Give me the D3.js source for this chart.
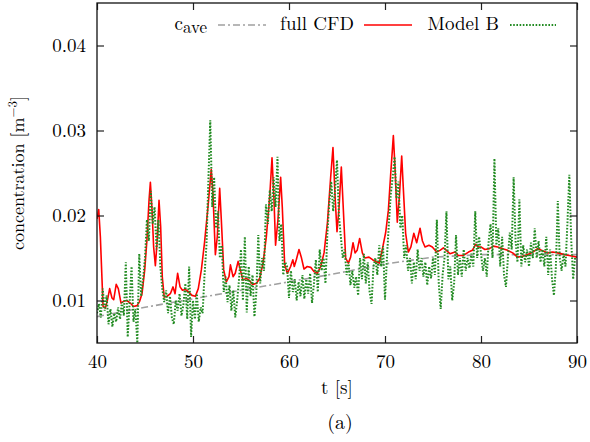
<!DOCTYPE html>
<html>
<head>
<meta charset="utf-8">
<script src="https://cdn.jsdelivr.net/npm/d3@7"></script>
<style>
  body { margin: 0; background: #fff; }
</style>
</head>
<body>
<script>
// c_ave (mean concentration)
var caveData = [[40,0.0081],[45,0.0092],[50,0.0102],[55,0.0112],[60,0.0122],[65,0.0132],
  [70,0.0143],[75,0.0151],[80,0.0154],[85,0.0154],[90,0.0154]];

// full CFD
var cfdData = [[40.0,0.0196],[40.18,0.0207],[40.35,0.0175],[40.63,0.0093],[40.87,0.0091],[41.1,0.0101],
  [41.32,0.0114],[41.56,0.0103],[41.74,0.0101],[42.0,0.0119],[42.22,0.0114],[42.5,0.0097],[42.78,0.0099],
  [43.1,0.0100],[43.47,0.0097],[43.8,0.0093],[44.17,0.0094],[44.44,0.0099],[44.69,0.0108],[44.97,0.0136],
  [45.2,0.0171],[45.42,0.0218],[45.56,0.0239],[45.73,0.0207],[45.9,0.0163],[46.08,0.0141],[46.25,0.0167],
  [46.46,0.0218],[46.63,0.0187],[46.8,0.0128],[47.0,0.0104],[47.3,0.0105],[47.64,0.0108],[47.92,0.0116],
  [48.13,0.0108],[48.4,0.0132],[48.65,0.0116],[48.9,0.0112],[49.2,0.0113],[49.55,0.0110],[49.9,0.0106],
  [50.25,0.0105],[50.55,0.0114],[50.87,0.0136],[51.2,0.0168],[51.56,0.0210],[51.9,0.0254],[52.08,0.0226],
  [52.33,0.0154],[52.53,0.0175],[52.78,0.0232],[52.95,0.0195],[53.2,0.0136],[53.47,0.0122],[53.75,0.0128],
  [53.9,0.0142],[54.17,0.0128],[54.4,0.0132],[54.7,0.0146],[54.93,0.0136],[55.2,0.0124],[55.55,0.0126],
  [55.83,0.0124],[56.18,0.0119],[56.6,0.0120],[56.94,0.0126],[57.3,0.0144],[57.64,0.0175],[57.99,0.0222],
  [58.23,0.0268],[58.44,0.0218],[58.6,0.0165],[58.85,0.0195],[59.13,0.0245],[59.3,0.0210],[59.55,0.0142],
  [59.83,0.0132],[60.17,0.0140],[60.4,0.0148],[60.55,0.0140],[60.76,0.0148],[61.04,0.0160],[61.28,0.0151],
  [61.56,0.0137],[61.9,0.0140],[62.26,0.0139],[62.6,0.0134],[62.95,0.0132],[63.3,0.0140],[63.65,0.0156],
  [64.0,0.0191],[64.34,0.0245],[64.58,0.0280],[64.8,0.0222],[65.0,0.0181],[65.2,0.0207],[65.45,0.0257],
  [65.66,0.0207],[65.9,0.0150],[66.18,0.0144],[66.42,0.0151],[66.67,0.0168],[66.88,0.0156],[67.1,0.0159],
  [67.36,0.0173],[67.64,0.0156],[67.9,0.0150],[68.33,0.0151],[68.7,0.0148],[69.0,0.0146],[69.4,0.0144],
  [69.7,0.0159],[70.07,0.0180],[70.35,0.0206],[70.6,0.0250],[70.87,0.0294],[71.04,0.0257],[71.28,0.0192],
  [71.5,0.0222],[71.74,0.0270],[71.9,0.0234],[72.15,0.0179],[72.43,0.0157],[72.7,0.0163],[73.0,0.0179],
  [73.3,0.0168],[73.65,0.0185],[73.9,0.0170],[74.17,0.0163],[74.58,0.0165],[74.93,0.0163],[75.38,0.0157],
  [75.73,0.0159],[76.08,0.0162],[76.4,0.0159],[76.77,0.0155],[77.3,0.0157],[77.64,0.0153],[78.16,0.0153],
  [78.7,0.0157],[79.1,0.0159],[79.44,0.0166],[79.72,0.0163],[80.0,0.0163],[80.4,0.0160],[80.87,0.0161],
  [81.3,0.0164],[81.74,0.0163],[82.26,0.0161],[82.78,0.0159],[83.3,0.0156],[83.8,0.0151],[84.34,0.0152],
  [84.86,0.0154],[85.4,0.0157],[85.9,0.0161],[86.3,0.0159],[86.94,0.0156],[87.47,0.0157],[88.0,0.0156],
  [88.7,0.0154],[89.2,0.0153],[90.0,0.0151]];

// Model B, sampled every 0.2 s from t = 40
var modelBStart = 40, modelBStep = 0.2;
var modelBValues = [
  0.0085,0.0096,0.0080,0.0114,0.0088,   0.0106,0.0072,0.0090,0.0069,0.0085,
  0.0075,0.0092,0.0078,0.0098,0.0082,   0.0145,0.0057,0.0098,0.0140,0.0075,
  0.0090,0.0050,0.0155,0.0105,0.0125,   0.0150,0.0195,0.0170,0.0229,0.0190,
  0.0210,0.0160,0.0195,0.0140,0.0114,   0.0098,0.0112,0.0085,0.0105,0.0080,
  0.0072,0.0100,0.0088,0.0108,0.0082,   0.0095,0.0120,0.0078,0.0140,0.0057,
  0.0100,0.0078,0.0108,0.0075,0.0092,   0.0085,0.0130,0.0165,0.0240,0.0312,
  0.0210,0.0245,0.0185,0.0205,0.0150,   0.0165,0.0110,0.0128,0.0098,0.0118,
  0.0088,0.0112,0.0080,0.0100,0.0125,   0.0160,0.0100,0.0175,0.0086,0.0140,
  0.0105,0.0130,0.0081,0.0110,0.0177,   0.0120,0.0150,0.0135,0.0213,0.0190,
  0.0230,0.0205,0.0245,0.0210,0.0269,   0.0170,0.0190,0.0130,0.0145,0.0140,
  0.0103,0.0135,0.0110,0.0125,0.0100,   0.0122,0.0105,0.0130,0.0102,0.0125,
  0.0108,0.0132,0.0097,0.0120,0.0148,   0.0110,0.0160,0.0135,0.0150,0.0120,
  0.0180,0.0215,0.0240,0.0205,0.0230,   0.0265,0.0200,0.0175,0.0150,0.0160,
  0.0130,0.0145,0.0118,0.0135,0.0115,   0.0128,0.0106,0.0150,0.0125,0.0155,
  0.0120,0.0145,0.0110,0.0096,0.0140,   0.0150,0.0130,0.0165,0.0140,0.0164,
  0.0101,0.0150,0.0190,0.0225,0.0245,   0.0269,0.0220,0.0240,0.0185,0.0200,
  0.0150,0.0165,0.0135,0.0150,0.0120,   0.0145,0.0125,0.0160,0.0135,0.0150,
  0.0128,0.0145,0.0118,0.0140,0.0126,   0.0150,0.0130,0.0195,0.0120,0.0090,
  0.0130,0.0150,0.0205,0.0125,0.0140,   0.0100,0.0120,0.0177,0.0130,0.0150,
  0.0128,0.0160,0.0135,0.0150,0.0138,   0.0155,0.0140,0.0205,0.0150,0.0175,
  0.0155,0.0135,0.0150,0.0128,0.0170,   0.0190,0.0150,0.0267,0.0165,0.0185,
  0.0140,0.0175,0.0130,0.0116,0.0150,   0.0180,0.0160,0.0245,0.0170,0.0145,
  0.0219,0.0140,0.0165,0.0145,0.0160,   0.0140,0.0168,0.0150,0.0185,0.0150,
  0.0170,0.0145,0.0160,0.0140,0.0175,   0.0130,0.0160,0.0125,0.0106,0.0140,
  0.0217,0.0150,0.0135,0.0155,0.0140,   0.0190,0.0248,0.0170,0.0125,0.0150
];

var xTicks = [40, 50, 60, 70, 80, 90];
var yTicks = [0.01, 0.02, 0.03, 0.04];

var FONT = "'Latin Modern Roman', 'Liberation Serif', serif";
var width = 590, height = 442;
var plot = {left: 97, right: 577, top: 3, bottom: 343};

var svg = d3.select("body").append("svg")
    .attr("width", width)
    .attr("height", height);

var x = d3.scaleLinear().domain([40, 90]).range([plot.left, plot.right]);
var y = d3.scaleLinear().domain([0.005, 0.045]).range([plot.bottom, plot.top]);

svg.append("clipPath").attr("id", "clip")
  .append("rect")
    .attr("x", plot.left).attr("y", plot.top)
    .attr("width", plot.right - plot.left)
    .attr("height", plot.bottom - plot.top);

var line = d3.line()
    .x(function(d){ return x(d[0]); })
    .y(function(d){ return y(d[1]); });

var modelBData = modelBValues.map(function(v, i){ return [modelBStart + i * modelBStep, v]; });

var lines = svg.append("g").attr("clip-path", "url(#clip)");

lines.append("path").datum(caveData)
    .attr("d", line)
    .attr("fill", "none")
    .attr("stroke", "#a0a0a0")
    .attr("stroke-width", 1.6)
    .attr("stroke-dasharray", "7,3,2,3");

lines.append("path").datum(cfdData)
    .attr("d", line)
    .attr("fill", "none")
    .attr("stroke", "#ff0000")
    .attr("stroke-width", 1.6)
    .attr("stroke-linejoin", "round");

lines.append("path").datum(modelBData)
    .attr("d", line)
    .attr("fill", "none")
    .attr("stroke", "#228b22")
    .attr("stroke-width", 2)
    .attr("stroke-dasharray", "1.6,1.6");

// axes with inward ticks, mirrored on top and right
var tickLen = 7;
var axisBottom = d3.axisBottom(x).tickValues(xTicks).tickSize(-tickLen).tickPadding(12)
    .tickFormat(d3.format("d"));
var axisTop = d3.axisTop(x).tickValues(xTicks).tickSize(-tickLen).tickFormat("");
var axisLeft = d3.axisLeft(y).tickValues(yTicks).tickSize(-tickLen).tickPadding(11)
    .tickFormat(d3.format(".2f"));
var axisRight = d3.axisRight(y).tickValues(yTicks).tickSize(-tickLen).tickFormat("");

function styleAxis(g) {
  g.select(".domain").remove();
  g.attr("font-family", null);
  g.selectAll(".tick line").attr("stroke", "#222").attr("stroke-width", 1.2);
  g.selectAll(".tick text").attr("font-size", 19)
    .style("font-family", FONT).attr("fill", "#000");
}

svg.append("g").attr("transform", "translate(0," + plot.bottom + ")").call(axisBottom).call(styleAxis);
svg.append("g").attr("transform", "translate(0," + plot.top + ")").call(axisTop).call(styleAxis);
svg.append("g").attr("transform", "translate(" + plot.left + ",0)").call(axisLeft).call(styleAxis);
svg.append("g").attr("transform", "translate(" + plot.right + ",0)").call(axisRight).call(styleAxis);

svg.append("rect")
    .attr("x", plot.left).attr("y", plot.top)
    .attr("width", plot.right - plot.left)
    .attr("height", plot.bottom - plot.top)
    .attr("fill", "none")
    .attr("stroke", "#111")
    .attr("stroke-width", 1.3);

// axis titles
svg.append("text")
    .attr("x", (plot.left + plot.right) / 2)
    .attr("y", 394)
    .attr("text-anchor", "middle")
    .attr("font-size", 19)
    .style("font-family", FONT)
    .text("t [s]");

svg.append("text")
    .attr("x", (plot.left + plot.right) / 2 + 3)
    .attr("y", 429)
    .attr("text-anchor", "middle")
    .attr("font-size", 20)
    .style("font-family", FONT)
    .text("(a)");

var ylab = svg.append("text")
    .attr("transform", "translate(24,173) rotate(-90)")
    .attr("text-anchor", "middle")
    .attr("font-size", 18)
    .style("font-family", FONT);
ylab.append("tspan").text("concentration [m");
ylab.append("tspan").attr("font-size", 13).attr("dy", -7).text("\u22123");
ylab.append("tspan").attr("dy", 7).text("]");

// legend
var legend = [
  {label: "c", sub: "ave", end: 207, x0: 218, x1: 266, color: "#a0a0a0", dash: "7,3,2,3", w: 1.6},
  {label: "full CFD", end: 354, x0: 364, x1: 412, color: "#ff0000", dash: null, w: 1.6},
  {label: "Model B", end: 499, x0: 510, x1: 556, color: "#228b22", dash: "1.6,1.6", w: 1.8}
];
var legY = 25;
legend.forEach(function(d){
  var t = svg.append("text")
      .attr("x", d.end).attr("y", legY + 5)
      .attr("text-anchor", "end")
      .attr("font-size", 19)
      .style("font-family", FONT);
  t.append("tspan").text(d.label);
  if (d.sub) t.append("tspan").attr("font-size", 17).attr("dy", 3).text(d.sub);
  svg.append("line")
      .attr("x1", d.x0).attr("x2", d.x1)
      .attr("y1", legY).attr("y2", legY)
      .attr("stroke", d.color)
      .attr("stroke-width", d.w)
      .attr("stroke-dasharray", d.dash);
});
</script>
</body>
</html>
